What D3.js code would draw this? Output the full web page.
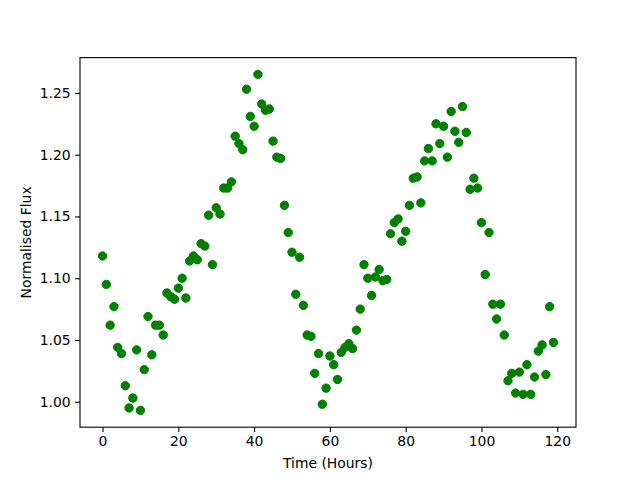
<!DOCTYPE html>
<html>
<head>
<meta charset="utf-8">
<script src="https://cdn.jsdelivr.net/npm/d3@7"></script>
<style>
  body { margin: 0; background: #fff; }
  svg text { font-family: "DejaVu Sans", sans-serif; }
</style>
</head>
<body>
<figure id="scatter" style="margin:0"></figure>
<script>
// time of each sample, in hours
const hours = d3.range(0, 120);

// normalised flux for each hour
const flux = [
  1.118, 1.095, 1.062, 1.077, 1.044, 1.039, 1.013, 0.995, 1.003, 1.042,
  0.993, 1.026, 1.069, 1.038, 1.062, 1.062, 1.054, 1.088, 1.085, 1.083,
  1.092, 1.100, 1.084, 1.114, 1.118, 1.115, 1.128, 1.126, 1.151, 1.111,
  1.157, 1.152, 1.173, 1.173, 1.178, 1.215, 1.209, 1.204, 1.253, 1.231,
  1.223, 1.265, 1.241, 1.236, 1.237, 1.211, 1.198, 1.197, 1.159, 1.137,
  1.121, 1.087, 1.117, 1.078, 1.054, 1.053, 1.023, 1.039, 0.998, 1.011,
  1.037, 1.030, 1.018, 1.040, 1.044, 1.047, 1.043, 1.058, 1.075, 1.111,
  1.100, 1.086, 1.101, 1.107, 1.098, 1.099, 1.136, 1.145, 1.148, 1.130,
  1.138, 1.159, 1.181, 1.182, 1.161, 1.195, 1.205, 1.195, 1.225, 1.209,
  1.223, 1.198, 1.235, 1.219, 1.210, 1.239, 1.218, 1.172, 1.181, 1.173,
  1.145, 1.103, 1.137, 1.079, 1.067, 1.079, 1.054, 1.017, 1.023, 1.007,
  1.024, 1.006, 1.030, 1.006, 1.020, 1.041, 1.046, 1.022, 1.077, 1.048
];

const xTicks = [0, 20, 40, 60, 80, 100, 120];
const yTicks = [1.00, 1.05, 1.10, 1.15, 1.20, 1.25];

const W = 640, H = 480;
const margin = {left: 80, right: 64, top: 57.6, bottom: 52.8};
const width = W - margin.left - margin.right;
const height = H - margin.top - margin.bottom;

// matplotlib style 5% padding around the data
function padded(values) {
  const [lo, hi] = d3.extent(values);
  const pad = (hi - lo) * 0.05;
  return [lo - pad, hi + pad];
}

const svg = d3.select('figure#scatter')
    .append('svg')
    .attr('width', W)
    .attr('height', H);

const g = svg.append('g')
    .attr('transform', 'translate(' + margin.left + ',' + margin.top + ')');

const x = d3.scaleLinear().domain(padded(hours)).range([0, width]);
const y = d3.scaleLinear().domain(padded(flux)).range([height, 0]);

const fontSize = '13.9px';

// X axis
const xAxis = g.append('g')
    .attr('transform', 'translate(0,' + height + ')')
    .call(d3.axisBottom(x).tickValues(xTicks).tickFormat(d3.format('d'))
        .tickSize(4.9).tickPadding(4.5));

// Y axis
const yAxis = g.append('g')
    .call(d3.axisLeft(y).tickValues(yTicks).tickFormat(d3.format('.2f'))
        .tickSize(4.9).tickPadding(4.5));

[xAxis, yAxis].forEach(ax => {
  ax.select('.domain').remove();
  ax.selectAll('line').attr('stroke', '#000').attr('stroke-width', 1.1);
  ax.selectAll('text')
      .attr('fill', '#000')
      .style('font-size', fontSize)
      .style('font-family', '"DejaVu Sans", sans-serif');
});

// frame
g.append('rect')
    .attr('width', width)
    .attr('height', height)
    .attr('fill', 'none')
    .attr('stroke', '#000')
    .attr('stroke-width', 1.1);

// points
g.selectAll('circle')
    .data(hours)
    .enter()
    .append('circle')
    .attr('cx', (d, i) => x(hours[i]))
    .attr('cy', (d, i) => y(flux[i]))
    .attr('r', 4.2)
    .attr('fill', '#008000')
    .attr('stroke', '#008000')
    .attr('stroke-width', 1);

// labels
svg.append('text')
    .attr('x', margin.left + width / 2)
    .attr('y', 468)
    .attr('text-anchor', 'middle')
    .style('font-size', fontSize)
    .text('Time (Hours)');

svg.append('text')
    .attr('transform', 'translate(31,' + (margin.top + height / 2) + ')rotate(-90)')
    .attr('text-anchor', 'middle')
    .style('font-size', fontSize)
    .text('Normalised Flux');
</script>
</body>
</html>
